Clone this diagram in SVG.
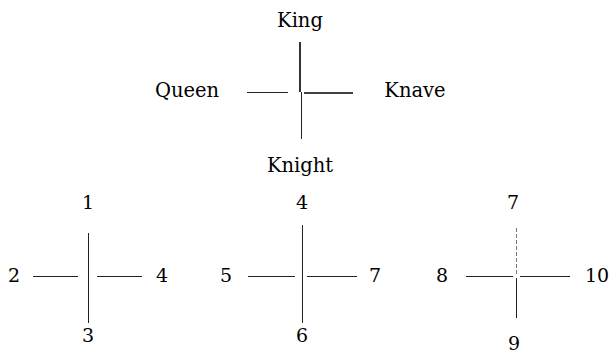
<svg xmlns="http://www.w3.org/2000/svg" width="612" height="354" viewBox="0 0 612 354">
<style>
text{font-family:"DejaVu Serif","Liberation Serif",serif;font-size:19px;fill:#000;text-anchor:middle}
.w{font-size:19.5px}
line{stroke:#222;stroke-width:1}
.b{stroke:#000;stroke-width:1.6}
.f{stroke:#777;stroke-dasharray:4 2}
</style>
<rect width="612" height="354" fill="#fff"/>
<g id="cards">
<text class="w" x="300" y="27">King</text>
<text class="w" x="187" y="97">Queen</text>
<text class="w" x="415" y="97">Knave</text>
<text class="w" x="300" y="172">Knight</text>
</g>
<g id="cross1">
<text x="88" y="209">1</text>
<text x="14" y="282">2</text>
<text x="162" y="282">4</text>
<text x="88" y="342">3</text>
</g>
<g id="cross2">
<text x="302" y="209">4</text>
<text x="226" y="282">5</text>
<text x="375" y="282">7</text>
<text x="302" y="342">6</text>
</g>
<g id="cross3">
<text x="513" y="209">7</text>
<text x="442" y="282">8</text>
<text x="597" y="282">10</text>
<text x="514" y="350">9</text>
</g>
<g id="connectors">
<line x1="300" y1="42" x2="300" y2="92" class="b"/>
<line x1="301.5" y1="92" x2="301.5" y2="139"/>
<line x1="247" y1="92.5" x2="288" y2="92.5"/>
<line x1="304" y1="93" x2="353" y2="93" class="b"/>
<line x1="88.5" y1="233" x2="88.5" y2="323"/>
<line x1="33" y1="276.5" x2="78" y2="276.5"/>
<line x1="97" y1="276.5" x2="142" y2="276.5"/>
<line x1="302.5" y1="225" x2="302.5" y2="323"/>
<line x1="248" y1="276.5" x2="295" y2="276.5"/>
<line x1="307" y1="276.5" x2="357" y2="276.5"/>
<line x1="516.5" y1="228" x2="516.5" y2="274" class="f"/>
<line x1="516.5" y1="278" x2="516.5" y2="318"/>
<line x1="466" y1="276.5" x2="513" y2="276.5"/>
<line x1="520" y1="276.5" x2="570" y2="276.5"/>
</g>
</svg>
